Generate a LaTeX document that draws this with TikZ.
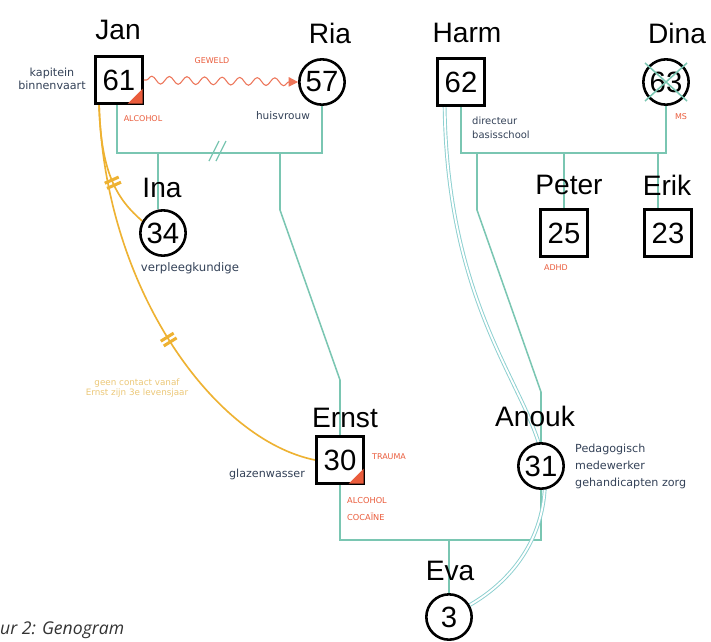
\documentclass[tikz,border=0pt]{standalone}
\usepackage{fontspec}
\setmainfont{Liberation Sans}
\newfontfamily\lblfont{DejaVu Sans}
\newfontfamily\capfont{Open Sans}
\usetikzlibrary{decorations.pathmorphing,decorations.markings,arrows.meta,backgrounds}
\definecolor{teal1}{RGB}{122,198,178}
\definecolor{teal2}{RGB}{140,208,208}
\definecolor{ylw}{RGB}{238,178,50}
\definecolor{ylwtxt}{RGB}{236,200,120}
\definecolor{rd}{RGB}{234,92,60}
\definecolor{ink}{RGB}{52,66,88}
\begin{document}
\begin{tikzpicture}[x=0.03cm,y=-0.03cm,
  man/.style={draw=black, line width=2.2pt, fill=white, minimum size=1.42cm, inner sep=0pt, font=\fontsize{25}{25}\selectfont},
  woman/.style={circle, draw=black, line width=2.2pt, fill=white, minimum size=1.36cm, inner sep=0pt, font=\fontsize{25}{25}\selectfont},
  pname/.style={font=\fontsize{24}{24}\selectfont, inner sep=0pt},
  lbl/.style={font=\lblfont\fontsize{9}{12}\selectfont, text=ink, inner sep=0pt},
  risk/.style={font=\lblfont\fontsize{6.8}{8}\selectfont, text=rd, inner sep=0pt},
  rel/.style={draw=teal1, line width=1.3pt},
  cutoff/.style={postaction={decorate, decoration={markings, mark=at position #1 with {\draw[ylw, line width=2.6pt, line cap=butt] (-2.4pt,-6.5pt) -- (-2.4pt,6.5pt) (2.4pt,-6.5pt) -- (2.4pt,6.5pt);}}}},
  yline/.style={draw=ylw, line width=1.4pt}
]
\useasboundingbox (0,0) rectangle (711,641);

% persons
\node[man]   (jan)   at (119,80)  {61};
\node[woman] (ria)   at (322,82)  {57};
\node[man]   (harm)  at (461,82)  {62};
\node[woman] (dina)  at (666,82)  {63};
\node[woman] (ina)   at (163,233) {34};
\node[man]   (peter) at (564,233) {25};
\node[man]   (erik)  at (668,233) {23};
\node[man]   (ernst) at (340,460) {30};
\node[woman] (anouk) at (541,466) {31};
\node[woman] (eva)   at (449,617) {3};

% corner markers (alcohol / drugs)
\fill[rd] ([shift={(-1.1pt,1.1pt)}]jan.south east) -- ++(-15,0) -- ++(15,-15) -- cycle;
\fill[rd] ([shift={(-1.1pt,1.1pt)}]ernst.south east) -- ++(-15,0) -- ++(15,-15) -- cycle;

% Dina deceased cross
\draw[teal1, line width=1.3pt] (dina.center) ++(-21,-19) -- ++(42,38);
\draw[teal1, line width=1.3pt] (dina.center) ++(-21,19) -- ++(42,-38);

\begin{scope}[on background layer]
\fill[white] (0,0) rectangle (711,641);
% Jan - Ria marriage (divorced)
\coordinate (jr) at (117,153);
\draw[rel] (jan.south -| jr) -- (jr) -| (ria.south);
\draw[teal1, line width=1.1pt] (209,161) -- (219,141) (216,161) -- (226,141);
% Ina
\coordinate (ic) at (158,153);
\draw[rel] (ic) -- (ic |- ina.north);
% Ernst and Anouk lines
\coordinate (ec) at (280,153);
\coordinate (e1) at (280,210);
\coordinate (e2) at (340,380);
\coordinate (eb) at (340,540);
\coordinate (ac) at (477,153);
\coordinate (a1) at (477,210);
\coordinate (a2) at (541,392);
\draw[rel] (ec) -- (e1) -- (e2) -- (ernst.north);
\draw[rel] (ernst.south) -- (eb) -| (anouk.south);
\draw[rel] (anouk.north) -- (a2) -- (a1) -- (ac);
% Eva
\coordinate (evc) at (449,540);
\draw[rel] (evc) -- (eva.north);
% Harm - Dina marriage
\coordinate (hd) at (461,153);
\draw[rel] (harm.south) -- (hd) -| (dina.south);
\coordinate (pc) at (564,153);
\coordinate (kc) at (658,153);
\draw[rel] (pc) -- (pc |- peter.north);
\draw[rel] (kc) -- (kc |- erik.north);
% Harm - Eva close bond
\draw[draw=teal2, line width=0.8pt, double=white, double distance=1.6pt]
  ([xshift=-14pt]harm.south) .. controls (448,330) and (545,400) .. (545,480)
  .. controls (545,540) and (510,582) .. (eva.30);
% cut-offs Jan - Ina, Jan - Ernst
\draw[yline, cutoff=0.62] ([xshift=-17pt]jan.south) .. controls (101,175) and (118,200) .. (ina.150);
\draw[yline, cutoff=0.56] ([xshift=-17pt]jan.south) .. controls (105,290) and (215,440) .. (ernst.west);
\end{scope}

% violence
\draw[rd!85, line width=0.9pt, decorate, decoration={snake, amplitude=3.3pt, segment length=15pt, pre length=2pt, post length=7pt}, -{Triangle[length=8pt,width=8pt]}]
  (jan.east) -- (ria.west);

% names
\node[pname] (njan)   at (118,30)  {Jan};
\node[pname] (nria)   at (330,33)  {Ria};
\node[pname] (nharm)  at (467,33)  {Harm};
\node[pname] (ndina)  at (677,33)  {Dina};
\node[pname] (nina)   at (162,188) {Ina};
\node[pname] (npeter) at (569,185) {Peter};
\node[pname] (nerik)  at (667,185) {Erik};
\node[pname] (nernst) at (345,418) {Ernst};
\node[pname] (nanouk) at (535,416) {Anouk};
\node[pname] (neva)   at (450,571) {Eva};

% labels
\node[lbl, align=center, font=\lblfont\fontsize{9.5}{11}\selectfont] (l1) at (52,79) {kapitein\\binnenvaart};
\node[risk] (r1) at (143,119) {ALCOHOL};
\node[risk] (r2) at (212,61) {GEWELD};
\node[lbl] (l2) at (283,116) {huisvrouw};
\node[lbl, align=left, anchor=west, font=\lblfont\fontsize{8.5}{12}\selectfont] (l3) at (472,128) {directeur\\basisschool};
\node[risk] (r3) at (681,117) {MS};
\node[risk] (r4) at (556,268) {ADHD};
\node[lbl, font=\lblfont\fontsize{10}{12}\selectfont] (l4) at (190,268) {verpleegkundige};
\node[lbl, font=\lblfont\fontsize{9.5}{12}\selectfont] (l5) at (267,474) {glazenwasser};
\node[risk] (r5) at (389,457) {TRAUMA};
\node[risk, align=left, anchor=west, font=\lblfont\fontsize{7}{15}\selectfont] (r6) at (347,509) {ALCOHOL\\COCAÏNE};
\node[lbl, align=left, anchor=west, font=\lblfont\fontsize{9.5}{14.5}\selectfont] (l6) at (575,466) {Pedagogisch\\medewerker\\gehandicapten zorg};
\node[lbl, align=center, text=ylwtxt, font=\lblfont\fontsize{7.5}{9}\selectfont] (l7) at (137,388) {geen contact vanaf\\Ernst zijn 3e levensjaar};

% caption
\node[anchor=base west, inner sep=0pt, text=black!80, font=\capfont\itshape\fontsize{15}{15}\selectfont] (cap) at (0,634) {ur 2: Genogram};
\end{tikzpicture}
\end{document}
